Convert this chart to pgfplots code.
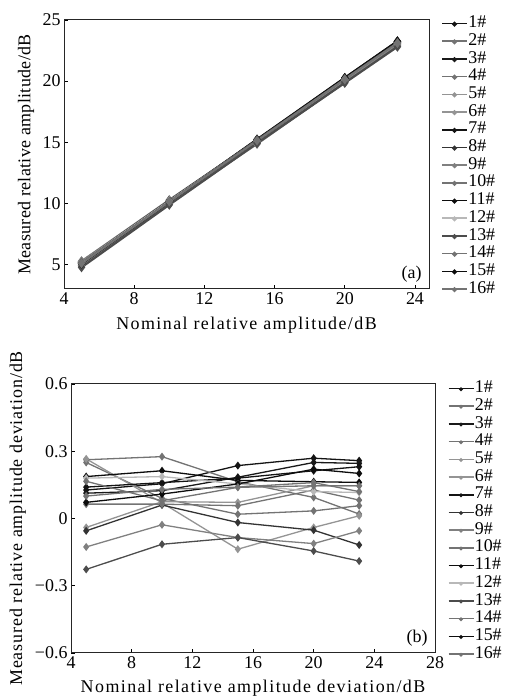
\documentclass[border=0pt]{standalone}
\usepackage{fontspec}
\setmainfont{Liberation Serif}
\usepackage{pgfplots}
\usepackage{pgfplotstable}
\pgfplotsset{compat=1.18}

\definecolor{c1}{gray}{0.08}
\definecolor{c2}{gray}{0.45}
\definecolor{c3}{gray}{0.10}
\definecolor{c4}{gray}{0.45}
\definecolor{c5}{gray}{0.58}
\definecolor{c6}{gray}{0.58}
\definecolor{c7}{gray}{0.08}
\definecolor{c8}{gray}{0.20}
\definecolor{c9}{gray}{0.50}
\definecolor{c10}{gray}{0.45}
\definecolor{c11}{gray}{0.05}
\definecolor{c12}{gray}{0.72}
\definecolor{c13}{gray}{0.30}
\definecolor{c14}{gray}{0.45}
\definecolor{c15}{gray}{0.05}
\definecolor{c16}{gray}{0.45}

% measured relative amplitude (a)
\pgfplotstableread{
x s1 s2 s3 s4 s5 s6 s7 s8 s9 s10 s11 s12 s13 s14 s15 s16
5 5.127 5.262 5.113 5.250 5.266 4.960 5.140 4.945 4.873 5.064 5.187 5.180 4.773 5.166 5.072 5.100
10 10.155 10.276 10.124 10.090 10.070 10.075 10.160 10.060 9.972 10.064 10.213 10.187 9.885 10.079 10.109 10.130
15 15.236 15.164 15.184 15.019 14.863 15.072 15.180 14.982 14.915 15.057 15.170 15.154 14.915 15.139 15.154 15.140
20 20.269 20.094 20.250 20.034 19.960 20.146 20.213 19.948 19.888 20.127 20.164 20.120 19.855 20.146 20.220 20.160
23 23.258 23.020 23.246 23.057 23.012 23.146 23.231 22.882 22.945 23.082 23.161 23.116 22.810 23.146 23.201 23.120
}\amptable

% measured relative amplitude deviation (b)
\pgfplotstableread{
x s1 s2 s3 s4 s5 s6 s7 s8 s9 s10 s11 s12 s13 s14 s15 s16
5 0.127 0.262 0.113 0.250 0.266 -0.040 0.140 -0.055 -0.127 0.064 0.187 0.180 -0.227 0.166 0.072 0.100
10 0.155 0.276 0.124 0.090 0.070 0.075 0.160 0.060 -0.028 0.064 0.213 0.187 -0.115 0.079 0.109 0.130
15 0.236 0.164 0.184 0.019 -0.137 0.072 0.180 -0.018 -0.085 0.057 0.170 0.154 -0.085 0.139 0.154 0.140
20 0.269 0.094 0.250 0.034 -0.040 0.146 0.213 -0.052 -0.112 0.127 0.164 0.120 -0.145 0.146 0.220 0.160
23 0.258 0.020 0.246 0.057 0.012 0.146 0.231 -0.118 -0.055 0.082 0.161 0.116 -0.190 0.146 0.201 0.120
}\devtable

\pgfplotsset{
  panel/.style={
    scale only axis, height=269bp,
    tick align=inside, xtick pos=bottom, ytick pos=left,
    major tick length=4bp,
    axis line style={line width=1bp,black!85},
    tick style={line width=0.8bp,black},
    tick label style={font=\fontsize{18}{18}\selectfont},
    /pgf/number format/assume math mode=true,
    legend cell align=left,
    legend style={draw=none,fill=none,anchor=north west,
      inner sep=0pt,row sep=0pt,
      font=\fontsize{18}{18}\selectfont,
      nodes={inner sep=0.5bp,text height=12.5bp,text depth=4.2bp}},
    legend image code/.code={
      \draw[##1,line width=1.6bp,mark=none] (0bp,0bp) -- (25bp,0bp);
      \fill[##1] (12.5bp,-0.6bp) circle (1.2bp);},
  }
}

\begin{document}
\begin{tikzpicture}[x=1bp,y=1bp]
\useasboundingbox (0,0) rectangle (506,697);

\begin{axis}[panel,at={(64bp,408bp)},anchor=south west,width=365bp,
  xmin=4,xmax=24.8,ymin=3,ymax=25,
  xtick={4,8,12,16,20,24},ytick={5,10,15,20,25},
  xlabel={Nominal relative amplitude/dB},
  ylabel={Measured relative amplitude/dB},
  every axis x label/.style={at={(axis description cs:0.5,-0.15)},anchor=base,
    font=\fontsize{18}{18}\selectfont\addfontfeatures{LetterSpace=8}},
  every axis y label/.style={at={(axis description cs:-0.104,0.5)},rotate=90,anchor=center,
    font=\fontsize{18}{18}\selectfont\addfontfeatures{LetterSpace=2}},
  legend style={at={(axis description cs:1,1)},xshift=12bp,yshift=5.5bp}]
\pgfplotsinvokeforeach{1,...,16}{
  \addplot[color=c#1,line width=2.2bp,mark=diamond*,mark size=3.2bp] table[x=x,y=s#1]{\amptable};
  \addlegendentry{#1\#}
}
\node[font=\fontsize{18}{18}\selectfont,anchor=south east,inner sep=0pt] at (rel axis cs:0.98,0.025) {(a)};
\end{axis}

\begin{axis}[panel,at={(71bp,44bp)},anchor=south west,width=364bp,
  xmin=4,xmax=28,ymin=-0.6,ymax=0.6,
  xtick={4,8,12,16,20,24,28},ytick={-0.6,-0.3,0,0.3,0.6},
  yticklabels={−0.6,−0.3,0,0.3,0.6},
  xlabel={Nominal relative amplitude deviation/dB},
  ylabel={Measured relative amplitude deviation/dB},
  every axis x label/.style={at={(axis description cs:0.5,-0.145)},anchor=base,
    font=\fontsize{18}{18}\selectfont\addfontfeatures{LetterSpace=8}},
  every axis y label/.style={at={(axis description cs:-0.146,0.5)},rotate=90,anchor=center,
    font=\fontsize{18}{18}\selectfont\addfontfeatures{LetterSpace=5}},
  legend style={at={(axis description cs:1,1)},xshift=12.5bp,yshift=4.5bp}]
\pgfplotsinvokeforeach{1,...,16}{
  \addplot[color=c#1,line width=1.3bp,mark=diamond*,mark size=3bp] table[x=x,y=s#1]{\devtable};
  \addlegendentry{#1\#}
}
\node[font=\fontsize{18}{18}\selectfont,anchor=south east,inner sep=0pt] at (rel axis cs:0.98,0.025) {(b)};
\end{axis}
\end{tikzpicture}
\end{document}
